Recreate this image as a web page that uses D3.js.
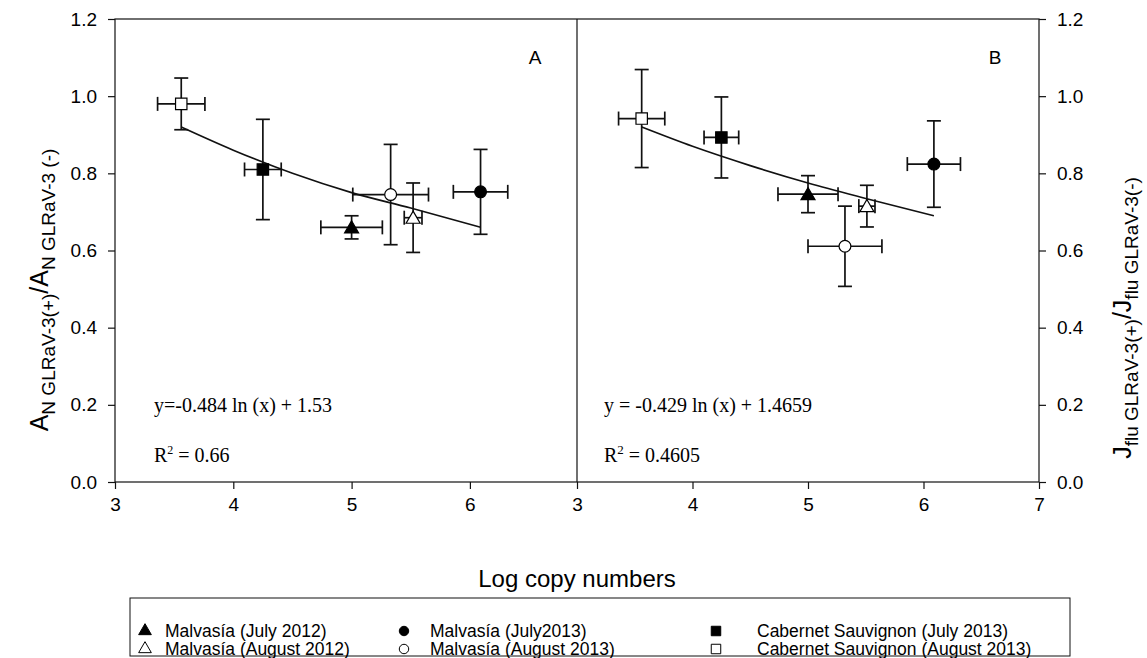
<!DOCTYPE html>
<html><head><meta charset="utf-8">
<script src="https://cdn.jsdelivr.net/npm/d3@7"></script>
<style>body{margin:0;background:#fff}svg{display:block}</style>
</head><body>
<script>
// ---- data ----
const seriesNames = ["Malvasía (July 2012)","Malvasía (August 2012)","Malvasía (July2013)","Malvasía (August 2013)","Cabernet Sauvignon (July 2013)","Cabernet Sauvignon (August 2013)"];
const seriesSymbols = ["triangle","triangle","circle","circle","square","square"];
const seriesFilled = [true,false,true,false,true,false];
// panel A: x, y, xErr, yErr (per series, same order)
const xA = [5.00, 5.52, 6.09, 5.33, 4.25, 3.56];
const yA = [0.66, 0.685, 0.752, 0.745, 0.81, 0.98];
const xErrA = [0.26, 0.075, 0.23, 0.32, 0.155, 0.20];
const yErrA = [0.03, 0.09, 0.11, 0.13, 0.13, 0.067];
// panel B
const xB = [5.00, 5.51, 6.09, 5.32, 4.25, 3.56];
const yB = [0.746, 0.715, 0.824, 0.611, 0.893, 0.942];
const xErrB = [0.26, 0.07, 0.23, 0.32, 0.15, 0.20];
const yErrB = [0.048, 0.054, 0.112, 0.104, 0.105, 0.127];
// fitted curves
const fitXA = [3.56, 4.0, 4.5, 5.0, 5.5, 6.09];
const fitYA = [0.92, 0.86, 0.80, 0.75, 0.71, 0.66];
const fitXB = [3.56, 4.0, 4.5, 5.0, 5.5, 6.09];
const fitYB = [0.92, 0.87, 0.82, 0.775, 0.735, 0.69];
const eqA = "y=-0.484 ln (x) + 1.53";
const r2A = " = 0.66";
const eqB = "y = -0.429 ln (x) + 1.4659";
const r2B = " = 0.4605";
const yTicks = [0,0.2,0.4,0.6,0.8,1.0,1.2];
const xTicksA = [3,4,5,6];
const xTicksB = [3,4,5,6,7];

const W=1147,H=658;
const svg=d3.select("body").append("svg").attr("width",W).attr("height",H)
  .style("font-family","Arial, 'Liberation Sans', sans-serif");

const pTop=19,pBot=482,lA=115,mid=577,rB=1039;
const y=d3.scaleLinear().domain([0,1.2]).range([pBot,pTop]);
const sxA=d3.scaleLinear().domain([3,3+(mid-lA)/118.3]).range([lA,mid]);
const sxB=d3.scaleLinear().domain([3,7]).range([mid,rB]);
const ink="#111";

// frame
svg.append("rect").attr("x",lA).attr("y",pTop).attr("width",rB-lA).attr("height",pBot-pTop)
  .attr("fill","none").attr("stroke",ink).attr("stroke-width",1.2);
svg.append("line").attr("x1",mid).attr("x2",mid).attr("y1",pTop).attr("y2",pBot).attr("stroke",ink).attr("stroke-width",1.2);

// axes
const axL=d3.axisLeft(y).tickValues(yTicks).tickFormat(d3.format(".1f")).tickSize(7).tickPadding(11);
const axR=d3.axisRight(y).tickValues(yTicks).tickFormat(d3.format(".1f")).tickSize(7).tickPadding(11);
const axBA=d3.axisBottom(sxA).tickValues(xTicksA).tickFormat(d3.format("d")).tickSize(7).tickPadding(9);
const axBB=d3.axisBottom(sxB).tickValues(xTicksB).tickFormat(d3.format("d")).tickSize(7).tickPadding(9);
function style(g){g.select(".domain").remove();g.selectAll("line").attr("stroke",ink).attr("stroke-width",1.2);
  g.selectAll("text").attr("font-size",19).attr("fill","#000").attr("font-family","Arial, 'Liberation Sans', sans-serif");}
svg.append("g").attr("transform",`translate(${lA},0)`).call(axL).call(style);
svg.append("g").attr("transform",`translate(${rB},0)`).call(axR).call(style);
svg.append("g").attr("transform",`translate(0,${pBot})`).call(axBA).call(style);
svg.append("g").attr("transform",`translate(0,${pBot})`).call(axBB).call(style);

// symbols
const symType={triangle:d3.symbolTriangle,circle:d3.symbolCircle,square:d3.symbolSquare};
const symSize={triangle:85,circle:110,square:130};
function drawPanel(sx,xs,ys,xe,ye,fx,fy){
  const g=svg.append("g");
  const cap=7;
  xs.forEach((xv,i)=>{
    const cx=sx(xv),cy=y(ys[i]);
    const y1=y(ys[i]+ye[i]),y2=y(ys[i]-ye[i]);
    const x1=sx(xv-xe[i]),x2=sx(xv+xe[i]);
    const e=g.append("g").attr("stroke",ink).attr("stroke-width",1.7);
    e.append("line").attr("x1",cx).attr("x2",cx).attr("y1",y1).attr("y2",y2);
    e.append("line").attr("x1",cx-cap).attr("x2",cx+cap).attr("y1",y1).attr("y2",y1);
    e.append("line").attr("x1",cx-cap).attr("x2",cx+cap).attr("y1",y2).attr("y2",y2);
    e.append("line").attr("x1",x1).attr("x2",x2).attr("y1",cy).attr("y2",cy);
    e.append("line").attr("x1",x1).attr("x2",x1).attr("y1",cy-cap).attr("y2",cy+cap);
    e.append("line").attr("x1",x2).attr("x2",x2).attr("y1",cy-cap).attr("y2",cy+cap);
  });
  const pts=fx.map((v,i)=>[v,fy[i]]);
  g.append("path").attr("d",d3.line().x(d=>sx(d[0])).y(d=>y(d[1])).curve(d3.curveMonotoneX)(pts))
    .attr("fill","none").attr("stroke",ink).attr("stroke-width",1.6);
  xs.forEach((xv,i)=>{
    const t=seriesSymbols[i];
    g.append("path").attr("d",d3.symbol().type(symType[t]).size(symSize[t])())
      .attr("transform",`translate(${sx(xv)},${y(ys[i])+(t==="triangle"?1.5:0)})`)
      .attr("fill",seriesFilled[i]?"#000":"#fff").attr("stroke","#000").attr("stroke-width",1.2);
  });
}
drawPanel(sxA,xA,yA,xErrA,yErrA,fitXA,fitYA);
drawPanel(sxB,xB,yB,xErrB,yErrB,fitXB,fitYB);

// panel letters
svg.append("text").attr("x",535).attr("y",64).attr("text-anchor","middle").attr("font-size",19).text("A");
svg.append("text").attr("x",995).attr("y",64).attr("text-anchor","middle").attr("font-size",19).text("B");

// equations
const serif="'Liberation Serif','Times New Roman',serif";
svg.append("text").attr("x",154).attr("y",412).attr("font-family",serif).attr("font-size",20).text(eqA);
const rA=svg.append("text").attr("x",154).attr("y",462).attr("font-family",serif).attr("font-size",20);
rA.append("tspan").text("R");rA.append("tspan").attr("dy",-8).attr("font-size",12).text("2");rA.append("tspan").attr("dy",8).text(r2A);
svg.append("text").attr("x",604).attr("y",412).attr("font-family",serif).attr("font-size",20).text(eqB);
const rBt=svg.append("text").attr("x",604).attr("y",462).attr("font-family",serif).attr("font-size",20);
rBt.append("tspan").text("R");rBt.append("tspan").attr("dy",-8).attr("font-size",13).text("2");rBt.append("tspan").attr("dy",8).text(r2B);

// axis titles
svg.append("text").attr("x",mid).attr("y",587).attr("text-anchor","middle").attr("font-size",24).text("Log copy numbers");
function yTitle(x,cy,main,sub1,sub2){
  const t=svg.append("text").attr("transform",`translate(${x},${cy}) rotate(-90)`).attr("text-anchor","middle").attr("font-size",25);
  t.append("tspan").text(main);
  t.append("tspan").attr("dy",7).attr("font-size",19).text(sub1);
  t.append("tspan").attr("dy",-7).text("/"+main);
  t.append("tspan").attr("dy",7).attr("font-size",19).text(sub2);
}
yTitle(48,290,"A","N GLRaV-3(+)","N GLRaV-3 (-)");
yTitle(1131,318,"J","flu GLRaV-3(+)","flu GLRaV-3(-)");

// legend
svg.append("rect").attr("x",130).attr("y",598).attr("width",940).attr("height",58).attr("fill","none").attr("stroke",ink).attr("stroke-width",1);
const colSym=[145,145,404,404,716,716], colTxt=[165,165,430,430,757,757], rowY=[631,649,631,649,631,649];
seriesNames.forEach((n,i)=>{
  const t=seriesSymbols[i];
  svg.append("path").attr("d",d3.symbol().type(symType[t]).size(t==="square"?90:70)())
    .attr("transform",`translate(${colSym[i]},${rowY[i]})`)
    .attr("fill",seriesFilled[i]?"#000":"#fff").attr("stroke","#000").attr("stroke-width",1);
  svg.append("text").attr("x",colTxt[i]).attr("y",rowY[i]+6).attr("font-size",17.5).text(n);
});
</script>
</body></html>
